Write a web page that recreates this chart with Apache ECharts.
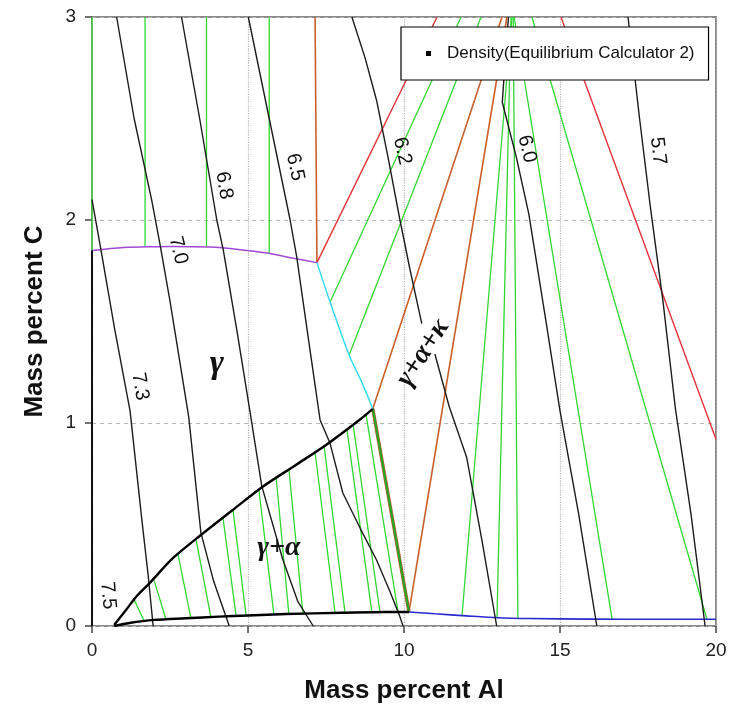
<!DOCTYPE html>
<html>
<head>
<meta charset="utf-8">
<script src="https://cdn.jsdelivr.net/npm/echarts/dist/echarts.min.js"></script>
<style>
  html, body { margin: 0; padding: 0; background: #fff; }
  #chart { width: 744px; height: 721px; }
</style>
</head>
<body>
<div id="chart"></div>
<script>
// Isopleth section, Mass percent Al vs Mass percent C, with density contours.

// ---- phase boundaries [Al, C] ----
const gammaGraphiteBoundary = [[0, 1.85], [1, 1.865], [1.76, 1.868], [2.5, 1.87], [3.78, 1.867], [4.7, 1.855], [5.6, 1.837], [6.5, 1.81], [7.21, 1.79]];
const gammaKappaBoundary = [[7.21, 1.79], [7.63, 1.596], [8.24, 1.335], [8.65, 1.2], [9.0, 1.07]];
const gammaAlphaUpper = [[0.71, 0.005], [1.09, 0.079], [1.45, 0.15], [1.84, 0.21], [2.6, 0.335], [3.49, 0.448], [4.5, 0.57], [5.47, 0.686], [6.5, 0.79], [7.5, 0.892], [8.57, 1.015], [9.0, 1.07]];
const gammaAlphaLower = [[0.71, 0.0], [1.2, 0.015], [2.0, 0.03], [3.0, 0.038], [4.07, 0.046], [5.0, 0.052], [6.22, 0.059], [8.0, 0.065], [9.42, 0.069], [10.16, 0.069]];
const alphaBoundary = [[10.16, 0.069], [11.0, 0.06], [12.0, 0.05], [13.0, 0.041], [14.0, 0.037], [16.0, 0.034], [18.0, 0.033], [20.0, 0.033]];
const binaryEdge = [[0, 0], [0, 1.85]];
const threePhaseEdge = [[9.0, 1.07], [10.16, 0.069]];
const orangeEdges = [
  [[7.21, 1.79], [7.15, 3]],
  [[9.0, 1.07], [13.14, 3]],
  [[10.16, 0.069], [13.3, 3]]
];
const redEdges = [
  [[7.21, 1.79], [11.06, 3]],
  [[15.03, 3], [20, 0.92]]
];

// ---- tie-lines ----
const gammaGraphiteTies = [
  [[0, 1.85], [0, 3]],
  [[1.70, 1.868], [1.70, 3]],
  [[3.67, 1.868], [3.67, 3]],
  [[5.68, 1.835], [5.68, 3]]
];
const gammaKappaTies = [
  [[7.63, 1.596], [11.83, 3]],
  [[8.24, 1.335], [12.47, 3]]
];
const gammaAlphaTies = [
  [[1.35, 0.13], [1.67, 0.025]],
  [[1.99, 0.225], [2.37, 0.033]],
  [[2.76, 0.35], [3.17, 0.039]],
  [[3.33, 0.43], [3.81, 0.044]],
  [[4.20, 0.53], [4.62, 0.049]],
  [[4.52, 0.57], [4.94, 0.051]],
  [[5.35, 0.67], [5.83, 0.057]],
  [[5.90, 0.735], [6.31, 0.059]],
  [[6.31, 0.775], [6.76, 0.061]],
  [[7.15, 0.855], [7.79, 0.064]],
  [[7.44, 0.885], [8.11, 0.065]],
  [[8.17, 0.97], [8.97, 0.068]],
  [[8.37, 0.99], [9.23, 0.068]],
  [[8.78, 1.045], [9.81, 0.069]]
];
const alphaKappaTies = [
  [[11.86, 0.053], [13.46, 3]],
  [[12.98, 0.041], [13.43, 3]],
  [[13.65, 0.038], [13.5, 3]],
  [[16.67, 0.034], [13.53, 3]],
  [[19.71, 0.033], [14.1, 3]]
];

// ---- density contours (g/cm3) ----
const density73 = [[0, 2.1], [0.29, 1.85], [0.73, 1.46], [1.22, 1.06], [1.6, 0.52], [1.8, 0.25], [1.96, 0]];
const density70 = [[0.79, 3], [1.35, 2.5], [1.91, 2.1], [2.18, 1.88], [2.5, 1.6], [3.1, 1.03], [3.49, 0.46], [3.9, 0.22], [4.4, 0]];
const density68 = [[2.87, 3], [3.45, 2.5], [4.0, 2.0], [4.21, 1.85], [4.65, 1.45], [5.06, 1.06], [5.44, 0.69], [6.11, 0.33], [6.6, 0.12], [7.09, 0]];
const density65 = [[5.01, 3], [5.68, 2.5], [6.35, 2.0], [6.56, 1.82], [6.95, 1.4], [7.31, 1.015], [7.63, 0.9], [8.04, 0.655], [8.6, 0.48], [9.12, 0.325], [9.55, 0.17], [9.87, 0.045], [9.97, 0]];
const density62a = [[8.33, 3], [8.75, 2.8], [9.12, 2.59], [9.5, 2.3], [9.87, 2.0], [10.2, 1.75], [10.57, 1.49]];
const density62b = [[10.99, 1.34], [11.45, 1.08], [12.01, 0.83], [12.5, 0.42], [12.97, 0]];
const density60 = [[13.35, 3], [13.25, 2.8], [13.15, 2.58], [13.6, 2.31], [14.0, 2.03], [14.5, 1.55], [15.0, 1.06], [15.6, 0.55], [16.18, 0]];
const density57 = [[17.18, 3], [17.55, 2.5], [17.9, 2.06], [18.3, 1.6], [18.7, 1.07], [19.2, 0.55], [19.65, 0]];

const contourLevels = ['7.5', '7.3', '7.0', '6.8', '6.5', '6.2', '6.0', '5.7'];
const contourLabelAt = [[0.51, 0.15], [1.54, 1.18], [2.76, 1.85], [4.23, 2.17], [6.51, 2.26], [9.94, 2.34], [13.94, 2.35], [18.14, 2.34]];
const contourLabelAngle = [-85, -80, -76, -80, -78, -77, -76, -83];

const phaseNames = ['γ', 'γ+α', 'γ+α+κ'];
const phaseLabelAt = [[4.0, 1.29], [5.99, 0.384], [10.61, 1.345]];
const phaseLabelAngle = [0, 0, 57];

const legendName = 'Density(Equilibrium Calculator 2)';

// ---- series helpers ----
function line(name, pts, color, width, z, smooth) {
  return {
    type: 'line', name: name, data: pts, symbol: 'none', showSymbol: false,
    smooth: smooth || false,
    lineStyle: { color: color, width: width }, itemStyle: { color: color },
    z: z, silent: true, animation: false, clip: true
  };
}

function textMarks(name, texts, at, angles, sizes, font, style, weight) {
  return {
    type: 'scatter', name: name, symbol: 'circle', symbolSize: 1,
    itemStyle: { color: 'rgba(0,0,0,0)' },
    silent: true, animation: false, z: 8,
    labelLayout: { hideOverlap: false },
    data: texts.map((t, i) => ({
      value: at[i], name: t,
      label: { rotate: angles[i], fontSize: sizes[i] }
    })),
    label: {
      show: true, position: 'inside', formatter: '{b}',
      fontFamily: font, fontStyle: style, fontWeight: weight,
      color: '#111', textBorderWidth: 0, textBorderColor: 'transparent', opacity: 1
    }
  };
}

const series = [];
gammaGraphiteTies.forEach(p => series.push(line('tie', p, '#33d633', 1.3, 2)));
gammaKappaTies.forEach(p => series.push(line('tie', p, '#33d633', 1.3, 2)));
gammaAlphaTies.forEach(p => series.push(line('tie', p, '#33d633', 1.3, 2)));
alphaKappaTies.forEach(p => series.push(line('tie', p, '#33d633', 1.3, 2)));

orangeEdges.forEach(p => series.push(line('edge', p, '#c9602c', 1.6, 3)));
redEdges.forEach(p => series.push(line('edge', p, '#e3323a', 1.4, 3)));
series.push(line('edge', threePhaseEdge, '#d2502a', 3.4, 3));
series.push(line('edge', threePhaseEdge, '#26a626', 2.2, 3));
series.push(line('boundary', gammaGraphiteBoundary, '#a04ad4', 1.5, 3, 0.3));
series.push(line('boundary', gammaKappaBoundary, '#36dceb', 1.5, 3, 0.3));
series.push(line('boundary', alphaBoundary, '#2a2ad0', 1.6, 3, 0.3));

[density73, density70, density68, density65, density62a, density62b, density60, density57]
  .forEach(p => series.push(line(legendName, p, '#1c1c1c', 1.4, 4)));

series.push(line('boundary', binaryEdge, '#111', 2.0, 5));
series.push(line('boundary', gammaAlphaUpper, '#000', 2.4, 5, 0.3));
series.push(line('boundary', gammaAlphaLower, '#000', 2.4, 5, 0.3));

series.push(textMarks('levels', contourLevels, contourLabelAt, contourLabelAngle,
  contourLevels.map(() => 20), 'Liberation Sans, Arial, sans-serif', 'normal', 'normal'));
series.push(textMarks('phases', phaseNames, phaseLabelAt, phaseLabelAngle,
  [34, 28, 28], 'Liberation Serif, Times New Roman, serif', 'italic', 'bold'));

const chart = echarts.init(document.getElementById('chart'), null, { renderer: 'canvas' });
chart.setOption({
  backgroundColor: '#fff',
  animation: false,
  grid: {
    left: 92, right: 28, top: 17, bottom: 95,
    show: true, borderColor: '#8a8a8a', borderWidth: 2, backgroundColor: 'transparent'
  },
  legend: {
    data: [{ name: legendName, icon: 'rect' }],
    left: 401, top: 27,
    padding: [18, 14, 18, 25],
    itemWidth: 5, itemHeight: 5,
    itemStyle: { color: '#000' },
    backgroundColor: '#fff', borderColor: '#000', borderWidth: 1.2,
    textStyle: { fontFamily: 'Liberation Sans, Arial, sans-serif', fontSize: 17, color: '#111', padding: [0, 0, 0, 11] },
    selectedMode: false, z: 20
  },
  xAxis: {
    type: 'value', min: 0, max: 20, interval: 5, offset: 6,
    name: 'Mass percent Al', nameLocation: 'middle', nameGap: 46,
    nameTextStyle: { fontFamily: 'Liberation Sans, Arial, sans-serif', fontSize: 26, fontWeight: 'bold', color: '#111' },
    axisLine: { show: false },
    axisTick: { show: true, length: 7, lineStyle: { color: '#444', width: 1.5 } },
    axisLabel: { margin: 9, fontFamily: 'Liberation Sans, Arial, sans-serif', fontSize: 19, color: '#222' },
    splitLine: { show: true, lineStyle: { color: '#b4b4b4', type: 'dotted', width: 1.2 } }
  },
  yAxis: {
    type: 'value', min: 0, max: 3, interval: 1, offset: 6,
    name: 'Mass percent C', nameLocation: 'middle', nameGap: 38,
    nameTextStyle: { fontFamily: 'Liberation Sans, Arial, sans-serif', fontSize: 26, fontWeight: 'bold', color: '#111' },
    axisLine: { show: false },
    axisTick: { show: true, length: 7, lineStyle: { color: '#444', width: 1.5 } },
    axisLabel: { margin: 10, fontFamily: 'Liberation Sans, Arial, sans-serif', fontSize: 19, color: '#222' },
    splitLine: { show: true, lineStyle: { color: '#b8b8b8', type: [4, 4], width: 1 } }
  },
  series: series
});
</script>
</body>
</html>
